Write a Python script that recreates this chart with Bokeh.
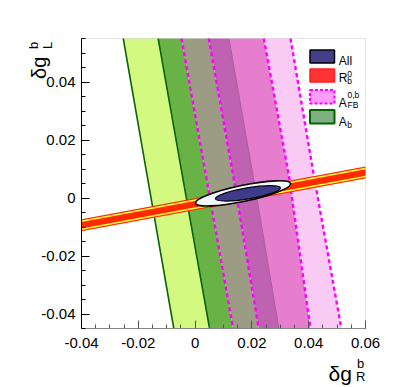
import numpy as np
from bokeh.plotting import figure
from bokeh.models import (FixedTicker, CustomJSTickFormatter, Label, Range1d,
                          BoxAnnotation)
from bokeh.embed import file_html
from bokeh.resources import INLINE

# ---------------- data ----------------
x_lim = (-0.04, 0.06)
y_lim = (-0.045, 0.055)
x_major = [-0.04, -0.02, 0.0, 0.02, 0.04, 0.06]
y_major = [-0.04, -0.02, 0.0, 0.02, 0.04]
minor_step = 0.005

# band edges (x values of contour lines at the three heights in edge_y)
edge_y = [0.055, 0.0078, -0.045]
edge1 = [-0.0253, -0.0169, -0.0075]   # A_b outer (left)
edge2 = [-0.0130, -0.0045, 0.0051]    # A_b inner (left)
edge3 = [-0.0048, 0.0038, 0.0134]     # A_FB outer (left)
edge4 = [0.0048, 0.0134, 0.0224]      # A_FB inner (left)
edge5 = [0.0119, 0.0204, 0.0295]      # A_b outer (right)
edge6 = [0.0242, 0.0330, 0.0406]      # A_FB inner (right)
edge7 = [0.0336, 0.0418, 0.0515]      # A_FB outer (right)
edges = [edge1, edge2, edge3, edge4, edge5, edge6, edge7]
region_colors = ["#d4f981", "#69b346", "#9c9c84", "#c062b2", "#e77ecd", "#f8caf4"]

# R_b^0 band
rb_x = [-0.04, 0.06]
rb_center = [-0.0094, 0.0088]
rb_half_outer = 0.0021
rb_half_inner = 0.0014

# "All" ellipses (outer white, inner blue)
ell_x = [0.0169, 0.0186]
ell_y = [0.0016, 0.0016]
ell_w = [0.0342, 0.0232]
ell_h = [0.0055, 0.0038]
ell_angle = [0.205, 0.165]

# ---------------- figure ----------------
W, H = 399, 387
FL, FR, FT, FB = 81, 365, 38, 328   # plot-box edges in canvas pixels

sx = (x_lim[1] - x_lim[0]) / (FR - FL)
sy = (y_lim[1] - y_lim[0]) / (FB - FT)
x_view = (x_lim[0] - FL * sx, x_lim[1] + (W - FR) * sx)
y_view = (y_lim[0] - (H - FB) * sy, y_lim[1] + FT * sy)

p = figure(width=W, height=H, output_backend="svg", toolbar_location=None,
           x_range=Range1d(*x_view), y_range=Range1d(*y_view),
           min_border=0, min_border_left=0, min_border_right=0,
           min_border_top=0, min_border_bottom=0)
p.title.visible = False
p.grid.visible = False
p.background_fill_color = "white"
p.border_fill_color = "white"
p.outline_line_color = None


def to_data(px, py):
    return x_view[0] + px * sx, y_view[1] - py * sy


# colored regions between successive contour lines
xs, ys = [], []
for i in range(len(edges) - 1):
    a, b = edges[i], edges[i + 1]
    xs.append(list(a) + list(b[::-1]))
    ys.append(list(edge_y) + list(edge_y[::-1]))
p.patches(xs, ys, fill_color=region_colors, line_color=None)

# contour lines
for e in (edge1, edge2):
    p.line(e, edge_y, line_color="#0b640b", line_width=1.6)
p.line(edge5, edge_y, line_color="#a25a9a", line_width=1.0)
for e in (edge3, edge4, edge6, edge7):
    p.line(e, edge_y, line_color="#ff00ff", line_width=2.4, line_dash="4 3")

# R_b band
rc = np.array(rb_center)
p.varea(x=rb_x, y1=rc - rb_half_outer, y2=rc + rb_half_outer, fill_color="#ff2a00")
p.line(rb_x, rc + rb_half_inner, line_color="#ffff30", line_width=1.5)
p.line(rb_x, rc - rb_half_inner, line_color="#ffff30", line_width=1.5)

# ellipses
p.ellipse(x=ell_x[0], y=ell_y[0], width=ell_w[0], height=ell_h[0], angle=ell_angle[0],
          fill_color="#f2f8fc", line_color="black", line_width=1.6)
p.ellipse(x=ell_x[1], y=ell_y[1], width=ell_w[1], height=ell_h[1], angle=ell_angle[1],
          fill_color="#3f3a8a", line_color="black", line_width=1.2)

# plot box outline (drawn below the axes)
p.add_layout(BoxAnnotation(left=x_lim[0], right=x_lim[1], bottom=y_lim[0], top=y_lim[1],
                           fill_alpha=0, line_color="#a8a8a8", line_width=1,
                           level="glyph", editable=False))

# ---------------- axes ----------------
fmt = CustomJSTickFormatter(code="return Math.abs(tick) < 1e-9 ? '0' : tick.toFixed(2);")
x_minor = list(np.round(np.arange(x_lim[0], x_lim[1] + 1e-9, minor_step), 4))
y_minor = list(np.round(np.arange(y_lim[0], y_lim[1] + 1e-9, minor_step), 4))
p.xaxis.ticker = FixedTicker(ticks=x_major, minor_ticks=x_minor)
p.yaxis.ticker = FixedTicker(ticks=y_major, minor_ticks=y_minor)
p.xaxis.fixed_location = y_lim[0]
p.yaxis.fixed_location = x_lim[0]
p.xaxis.bounds = x_lim
p.yaxis.bounds = y_lim
for ax in (p.xaxis, p.yaxis):
    ax.formatter = fmt
    ax.major_tick_in = 8
    ax.major_tick_out = 0
    ax.minor_tick_in = 4
    ax.minor_tick_out = 0
    ax.major_label_text_font = "Liberation Sans"
    ax.major_label_text_font_size = "15px"
    ax.major_label_text_color = "black"
p.xaxis.axis_line_color = "#888888"
p.xaxis.major_tick_line_color = "#555555"
p.xaxis.minor_tick_line_color = "#555555"
p.xaxis.major_label_standoff = 9
p.yaxis.axis_line_color = "black"
p.yaxis.major_tick_line_color = "black"
p.yaxis.minor_tick_line_color = "black"
p.yaxis.major_label_standoff = 6

FONT = "Liberation Sans"


def add_text(px, py, text, size, angle=0.0):
    x, y = to_data(px, py)
    p.add_layout(Label(x=x, y=y, text=text, text_font=FONT, text_font_size=f"{size}px",
                       text_baseline="alphabetic", text_align="left", angle=angle,
                       text_color="black"))


# axis titles
add_text(328, 372.5, "δg", 21)
add_text(356.5, 362.5, "b", 13)
add_text(355.5, 375.5, "R", 13)
add_text(38.5, 78.5, "δg", 20, angle=np.pi / 2)
add_text(33, 48.5, "b", 13, angle=np.pi / 2)
add_text(46.5, 48.5, "L", 13, angle=np.pi / 2)

# ---------------- legend ----------------
leg_rows = [  # (top, bottom) of swatches in canvas pixels
    (49.5, 62.5), (68.5, 81.5), (89.5, 103), (109.5, 123)]
leg_fill = ["#443d8a", "#ff3333", "#ff9cff", "#80b080"]
leg_line = ["black", "#ff2020", "#ff00ff", "#006400"]
leg_dash = ["solid", "solid", "3 2", "solid"]
leg_lw = [1.5, 1.5, 2.2, 2.0]
for (t, b), fc, lc, ld, lw in zip(leg_rows, leg_fill, leg_line, leg_dash, leg_lw):
    x0, y0 = to_data(309.5, b)
    x1, y1 = to_data(334, t)
    p.quad(left=x0, right=x1, bottom=y0, top=y1, fill_color=fc, line_color=lc,
           line_dash=ld, line_width=lw)

add_text(338.3, 60.3, "All", 12)
add_text(338.3, 77.8, "R", 12)
add_text(346.8, 73.8, "0", 8.5)
add_text(346.8, 80.8, "b", 8.5)
add_text(338.3, 102.3, "A", 12)
add_text(347, 94.2, "0,b", 8.5)
add_text(347, 104.5, "FB", 8.5)
add_text(338.3, 121.8, "A", 12)
add_text(346.8, 124.3, "b", 8.5)

open("out.html", "w").write(file_html(p, INLINE))
